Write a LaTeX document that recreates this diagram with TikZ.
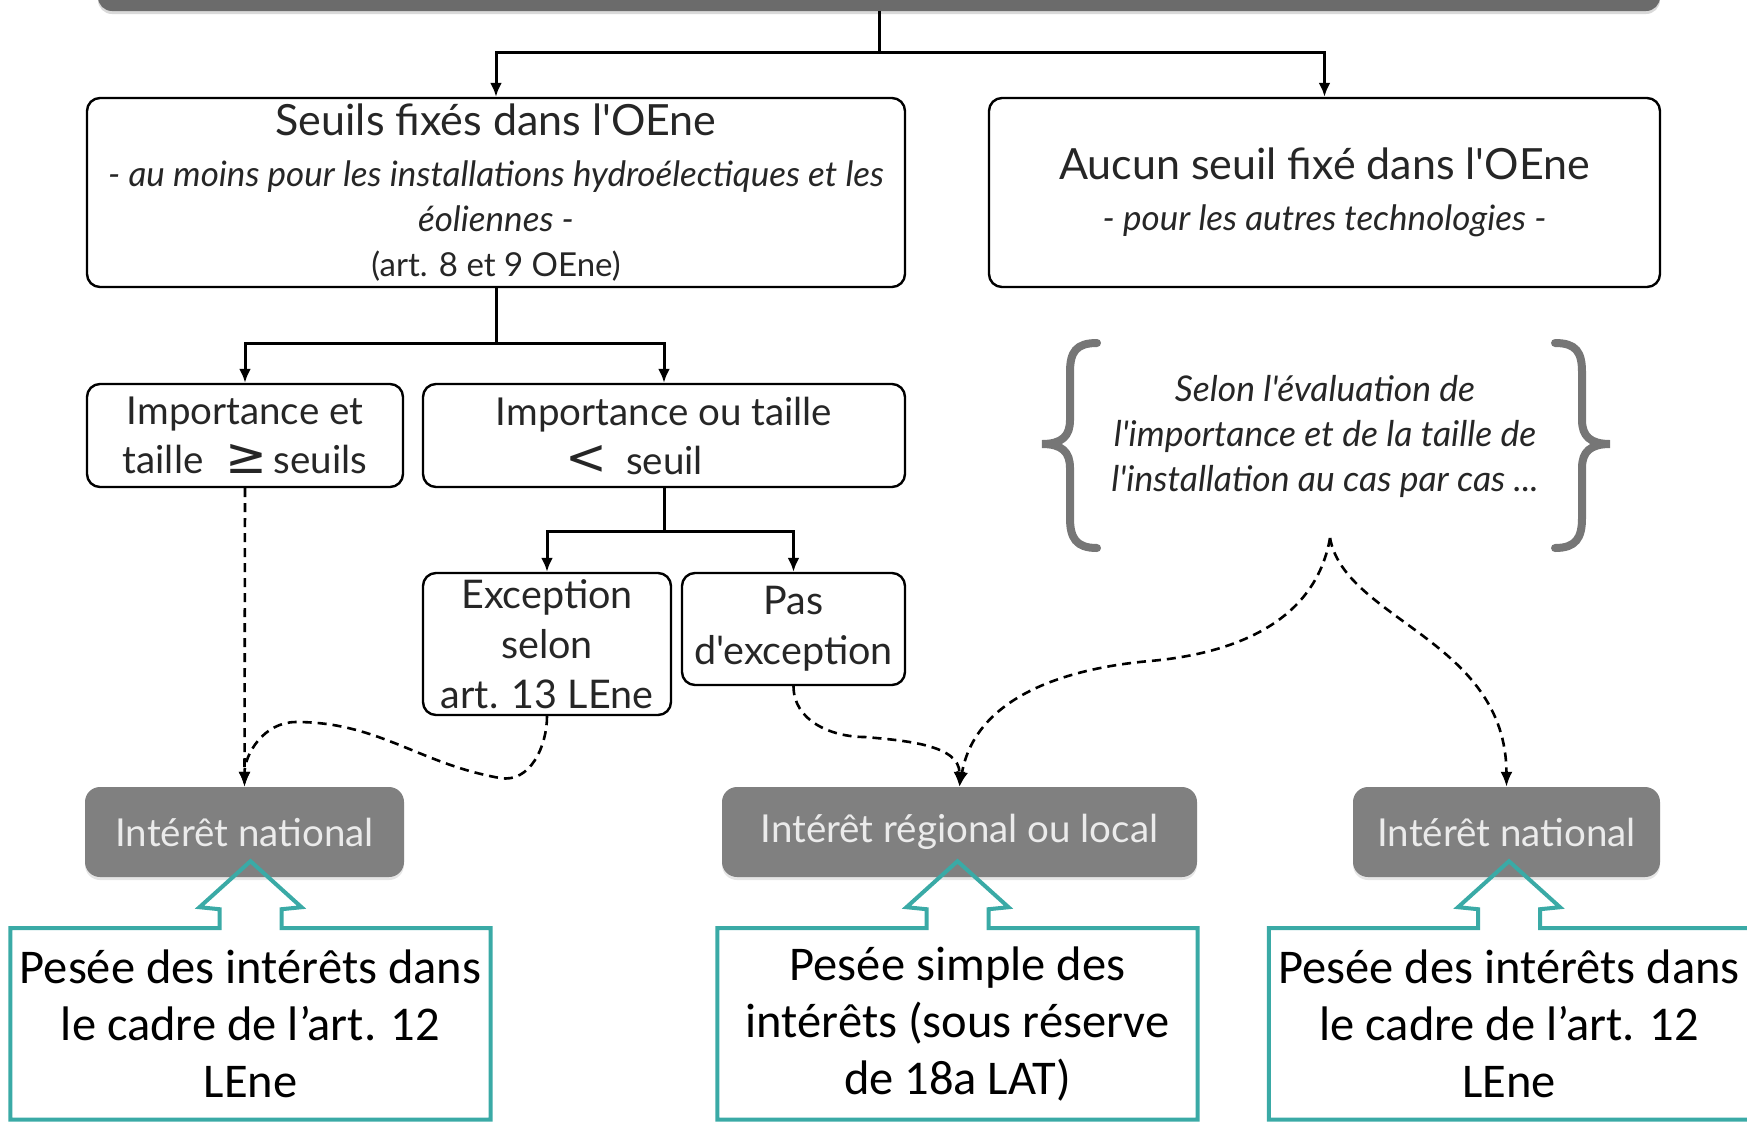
\documentclass[tikz,border=0pt]{standalone}
\usepackage{fontspec}
\setmainfont{Lato}[Ligatures=TeXOff]
\newfontfamily\pesfont{Carlito}
\newfontfamily\symfont{DejaVu Sans}
\usepackage{tikz}
\usetikzlibrary{arrows.meta, positioning, calc, shadows}

\definecolor{bargray}{RGB}{107,107,107}
\definecolor{taggray}{RGB}{128,128,128}
\definecolor{bracegray}{RGB}{118,118,118}
\definecolor{pesteal}{RGB}{58,170,166}

\begin{document}
\begin{tikzpicture}[
		x=1pt, y=1pt,
		font=\fontsize{38.5}{49}\selectfont,
		node distance=51pt,
		box/.style={
			draw,
			line width=2.4pt,
			rounded corners=13pt,
			align=center,
			inner sep=0pt,
			text=black!85
		},
		smallbox/.style={box,font=\fontsize{35}{45}\selectfont},
		barbox/.style={
			fill=bargray,
			rounded corners=14pt,
			minimum width=1562pt,
			minimum height=60pt,
			drop shadow={shadow xshift=0pt,shadow yshift=-3pt,opacity=0.3}
		},
		tagbox/.style={
			fill=taggray,
			rounded corners=15pt,
			minimum height=90pt,
			font=\fontsize{38.5}{46}\selectfont,
			text=white!92!black,
			drop shadow={shadow xshift=0pt,shadow yshift=-3pt,opacity=0.2}
		},
		pesbox/.style={
			font=\pesfont\fontsize{48.5}{57}\selectfont,
			align=center,
			minimum width=480pt,
			minimum height=191pt,
			inner sep=0pt
		},
		callline/.style={draw=pesteal,line width=4pt},
		arrow/.style={-{Latex[length=14pt,width=12pt]},line width=3pt},
		dasharrow/.style={-{Latex[length=15pt,width=12pt]},line width=2.6pt,dash pattern=on 9pt off 6pt},
		brace/.style={draw=bracegray,line width=8pt,line cap=round}
	]
	\useasboundingbox (0,0) rectangle (1747,-1122);
	
	\node[barbox] (top) at (879,19) {};
	
	\node[smallbox,minimum width=818pt,minimum height=189pt] (seuils) at (496,-192.5) {{\fontsize{43}{44}\selectfont Seuils fixés dans l'OEne}\\[6pt]\textit{- au moins pour les installations hydroélectiques et les}\\\textit{éoliennes -}\\{\fontsize{33}{45}\selectfont(art. 8 et 9 OEne)}};
	\node[smallbox,minimum width=671pt,minimum height=189pt] (aucun) at (1324.5,-192.5) {{\fontsize{43}{44}\selectfont Aucun seuil fixé dans l'OEne}\\[6pt]\textit{- pour les autres technologies -}};
	
	\node[box,minimum width=316pt,minimum height=103pt] (impA) at (245,-435.5) {Importance et\\taille\hspace{22pt}{\symfont\fontsize{50}{49}\selectfont ≥}\,seuils};
	\node[box,minimum width=482pt,minimum height=103pt] (impB) at (664,-435.5) {Importance ou taille\\{\symfont\fontsize{50}{49}\selectfont <}\enspace seuil\hspace*{60pt}};
	
	\node[box,minimum width=248pt,minimum height=142pt,font=\fontsize{39.5}{50}\selectfont] (exc) at (547,-644) {Exception\\selon\\art. 13 LEne};
	\node[box,minimum width=223pt,minimum height=112pt,font=\fontsize{39.5}{50}\selectfont] (pas) at (793.5,-629) {Pas\\d'exception};
	
	\node[align=center,text=black!85,font=\itshape\fontsize{35.5}{45}\selectfont] (selon) at (1325,-436) {Selon l'évaluation de\\l'importance et de la taille de\\l'installation au cas par cas ...};
	\coordinate (fork) at (1330,-538);
	
	% braces round the text
	\draw[brace] (1097,-343) .. controls (1076,-343) and (1070,-352) .. (1070,-372) -- (1070,-420) .. controls (1070,-436) and (1062,-444) .. (1042,-444) .. controls (1062,-444) and (1070,-452) .. (1070,-468) -- (1070,-518) .. controls (1070,-538) and (1076,-548) .. (1097,-548);
	\draw[brace] (1555,-343) .. controls (1576,-343) and (1582,-352) .. (1582,-372) -- (1582,-420) .. controls (1582,-436) and (1590,-444) .. (1610,-444) .. controls (1590,-444) and (1582,-452) .. (1582,-468) -- (1582,-518) .. controls (1582,-538) and (1576,-548) .. (1555,-548);
	
	\node[tagbox,minimum width=319pt] (natA) at (244.5,-832) {Intérêt national};
	\node[tagbox,minimum width=475pt] (reg) at (959.5,-832) {Intérêt régional ou local};
	\node[tagbox,minimum width=307pt] (natB) at (1506.5,-832) {Intérêt national};
	
	\node[pesbox,below=of natA,xshift=6pt] (pesA) {Pesée des intérêts dans\\le cadre de l’art. 12\\LEne};
	\node[pesbox,below=of reg,xshift=-2pt] (pesB) {Pesée simple des\\intérêts (sous réserve\\de 18a LAT)};
	\node[pesbox,below=of natB,xshift=2.5pt] (pesC) {Pesée des intérêts dans\\le cadre de l’art. 12\\LEne};
	
	\foreach \p in {pesA,pesB,pesC}
		\draw[callline] (\p.north west) -- ([xshift=-31pt]\p.north) -- ([xshift=-31pt,yshift=19pt]\p.north) -- ([xshift=-51pt,yshift=21pt]\p.north) -- ([yshift=67pt]\p.north) -- ([xshift=51pt,yshift=21pt]\p.north) -- ([xshift=31pt,yshift=19pt]\p.north) -- ([xshift=31pt]\p.north) -- (\p.north east) -- (\p.south east) -- (\p.south west) -- cycle;
	
	\draw[arrow] (top.south) -- ++(0,-41) -| (seuils.north);
	\draw[arrow] (top.south) -- ++(0,-41) -| (aucun.north);
	\draw[arrow] (seuils.south) -- ++(0,-55) -| (impA.north);
	\draw[arrow] (seuils.south) -- ++(0,-55) -| (impB.north);
	\draw[arrow] (impB.south) -- ++(0,-43) -| (exc.north);
	\draw[arrow] (impB.south) -- ++(0,-43) -| (pas.north);
	
	\draw[dasharrow] (impA.south) -- (natA.north);
	\draw[dasharrow] (exc.south) to[out=-90,in=-10] (500,-778) to[out=170,in=0] (296,-722) to[out=180,in=90] (natA.north);
	\draw[dasharrow] (pas.south) to[out=-90,in=180] (865,-737) to[out=-5,in=90] (reg.north);
	\draw[dasharrow] (fork) to[out=-100,in=5] (1150,-661) to[out=185,in=80] (reg.north);
	\draw[dasharrow] (fork) .. controls (1345,-620) and (1506,-640) .. (natB.north);
	
\end{tikzpicture}
\end{document}
